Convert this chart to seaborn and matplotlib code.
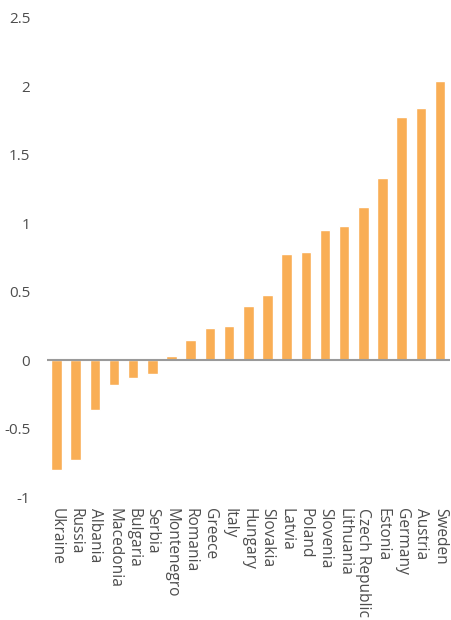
import matplotlib
matplotlib.use("Agg")
import matplotlib.pyplot as plt
import seaborn as sns
import pandas as pd

# ------------------------------------------------------------
# Data
# ------------------------------------------------------------
countries = ["Ukraine", "Russia", "Albania", "Macedonia", "Bulgaria", "Serbia",
             "Montenegro", "Romania", "Greece", "Italy", "Hungary", "Slovakia",
             "Latvia", "Poland", "Slovenia", "Lithuania", "Czech Republic",
             "Estonia", "Germany", "Austria", "Sweden"]
values = [-0.80, -0.725, -0.36, -0.18, -0.13, -0.10,
          0.03, 0.15, 0.235, 0.25, 0.40, 0.48,
          0.78, 0.79, 0.95, 0.98, 1.12,
          1.33, 1.78, 1.845, 2.04]
yticks = [-1, -0.5, 0, 0.5, 1, 1.5, 2, 2.5]
ytick_labels = ["-1", "-0.5", "0", "0.5", "1", "1.5", "2", "2.5"]

df = pd.DataFrame({"country": countries, "value": values})

sns.set_style("white")
plt.rcParams['font.family'] = ['Open Sans', 'DejaVu Sans']

fig = plt.figure(figsize=(4.51, 6.2), dpi=100)
ax = fig.add_axes([0.104, 0.198, 0.893, 0.773])

sns.barplot(data=df, x="country", y="value", color="#F9AE55",
            saturation=1, width=0.55, ax=ax)

ax.axhline(0, color="#9A9A9A", linewidth=1.5, zorder=3)
ax.set_ylim(-1, 2.5)
ax.set_xlim(-0.5, len(countries) - 0.5)
ax.set_yticks(yticks)
ax.set_yticklabels(ytick_labels)
ax.set_xlabel("")
ax.set_ylabel("")

for s in ax.spines.values():
    s.set_visible(False)

ax.tick_params(axis="y", length=0, labelsize=11, labelcolor="#4d4d4d", pad=12)
ax.tick_params(axis="x", length=0, labelsize=11.2, labelcolor="#4d4d4d", pad=8)
plt.setp(ax.get_xticklabels(), rotation=270, va="top", ha="center")

fig.savefig("out.png", dpi=100)
